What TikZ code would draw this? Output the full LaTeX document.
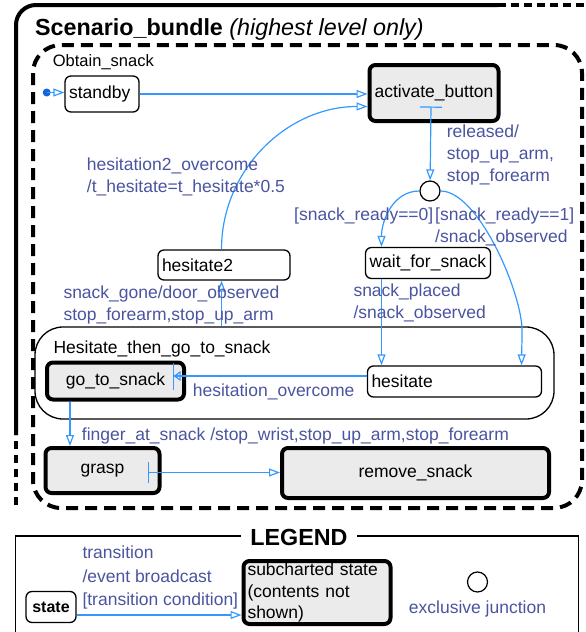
\documentclass[tikz,border=0pt]{standalone}
\usepackage{fontspec}
\setmainfont{Liberation Sans}
\usetikzlibrary{arrows.meta}
\definecolor{linkblue}{RGB}{51,153,255}
\definecolor{labelblue}{RGB}{74,84,160}
\definecolor{initblue}{RGB}{20,100,220}
\definecolor{subgray}{RGB}{235,235,235}
\newcommand{\statefont}{\fontsize{17.5}{22}\selectfont}

\begin{document}
\begin{tikzpicture}[
        x=1pt, y=-1pt,
        state/.style={draw, rounded corners=6pt, line width=1.3pt, inner xsep=4pt, inner ysep=0pt, align=left, font=\statefont},
        subchart/.style={state, line width=4pt, fill=subgray, align=center},
        junction/.style={draw, circle, line width=1.2pt, minimum size=20pt, inner sep=0pt},
        frame/.style={line width=4pt, dash pattern=on 12pt off 7pt},
        trans/.style={draw=linkblue, line width=1.2pt, -{Triangle[open, length=11pt, width=8pt]}},
        guard/.style={text=labelblue, font=\statefont, align=left, anchor=base west, inner sep=0pt},
        caption/.style={font=\statefont, anchor=base west, inner sep=0pt}
    ]
    \useasboundingbox (0,0) rectangle (586,632);

    % Frames
    \draw[line width=4pt, dash pattern=on 8pt off 6pt] (16,505) -- (16,435);
    \draw[line width=4pt, rounded corners=20pt] (16,435) -- (16,5) -- (498,5);
    \draw[line width=4pt, dash pattern=on 8pt off 5pt] (498,5) -- (586,5);
    \draw[frame, rounded corners=28pt] (33,45) rectangle (582,508);
    \node[anchor=base west, inner sep=0pt, font=\fontsize{23.3}{26}\selectfont] (title) at (35,35) {\textbf{Scenario\_bundle} \textit{(highest level only)}};
    \node[caption, font=\fontsize{16.5}{20}\selectfont] (obtainlabel) at (52.7,66.7) {Obtain\_snack};

    % Nodes
    \coordinate (init) at (46.7,92.5);
    \node[state, text width=66pt, minimum height=36pt] (standby) at (102,94) {standby};
    \node[subchart, minimum width=129pt, minimum height=56pt] (activate) at (434,93) {activate\_button};
    \node[junction] (junc) at (430,191) {};
    \node[state, text width=117pt, minimum height=31pt] (wait) at (428,263) {wait\_for\_snack};
    \node[state, text width=124pt, minimum height=30pt] (hesitate2) at (224,265) {hesitate2};
    \node[state, rounded corners=28pt, minimum width=519pt, minimum height=92pt] (hgts) at (294.5,373) {};
    \node[caption] (hgtslabel) at (53.3,353.3) {Hesitate\_then\_go\_to\_snack};
    \node[subchart, minimum width=137pt, minimum height=37pt] (gotosnack) at (115.5,381) {go\_to\_snack};
    \node[state, text width=166pt, minimum height=31pt] (hesitate) at (454.5,381.5) {hesitate};
    \node[subchart, minimum width=114pt, minimum height=45pt] (grasp) at (102.5,470.5) {grasp};
    \node[subchart, minimum width=267pt, minimum height=50pt] (remove) at (415.5,473) {remove\_snack};

    % Arrows
    \fill[initblue] (init) circle[radius=4pt];
    \draw[trans] (init) -- (init -| standby.west);
    \draw[trans] (standby.east) -- (standby.east -| activate.west);
    \draw[trans] ([xshift=-2.5pt]hesitate2.north) to[out=90, in=180] ([yshift=-13.5pt]activate.west);
    \draw[trans, {Bar[width=22pt]}-{Triangle[open, length=11pt, width=8pt]}] ([xshift=-3pt, yshift=-13.5pt]activate.center) -- (junc);
    \draw[trans] (junc.west) to[out=180, in=90] ([xshift=-46.5pt]wait.north);
    \draw[trans] (junc.east) to[out=0, in=90, looseness=0.6] ++(81.5,140) -- ([xshift=67pt]hesitate.north);
    \coordinate (waitout) at ([xshift=-46.5pt]wait.south);
    \draw[trans] (waitout) -- (waitout |- hesitate.north);
    \coordinate (h2in) at ([xshift=-2.5pt]hesitate2.south);
    \draw[trans] (h2in |- hgts.north) -- (h2in);
    \draw[trans, -{Triangle[open, length=7pt, width=10pt] Bar[width=27pt]}] ([yshift=5.5pt]hesitate.west) -- ([xshift=-13.5pt, yshift=5pt]gotosnack.east);
    \coordinate (gtsout) at ([xshift=-45.5pt]gotosnack.south);
    \draw[trans] (gtsout) -- (gtsout |- grasp.north);
    \coordinate (graspout) at ([xshift=-14pt, yshift=-2pt]grasp.east);
    \draw[trans, {Bar[width=21pt]}-{Triangle[open, length=11pt, width=8pt]}] (graspout) -- (graspout -| remove.west);

    % Transition labels (base = last line)
    \node[guard] (h2label) at (86.7,192) {hesitation2\_overcome\\/t\_hesitate=t\_hesitate*0.5};
    \node[guard] (rellabel) at (446.7,181.7) {released/\\stop\_up\_arm,\\stop\_forearm};
    \node[guard] (ready0) at (294,220) {[snack\_ready==0]};
    \node[guard] (ready1) at (435,242) {[snack\_ready==1]\\/snack\_observed};
    \node[guard] (placedlabel) at (353.3,318) {snack\_placed\\/snack\_observed};
    \node[guard] (gonelabel) at (63.3,320.5) {snack\_gone/door\_observed\\stop\_forearm,stop\_up\_arm};
    \node[guard] (overlabel) at (192.7,396.7) {hesitation\_overcome};
    \node[guard] (fingerlabel) at (81.7,440) {finger\_at\_snack /stop\_wrist,stop\_up\_arm,stop\_forearm};

    % Legend
    \draw[line width=1.3pt] (15.7,632) -- (15.7,536) -- (578.3,536) -- (578.3,632);
    \node[fill=white, inner xsep=9pt, inner ysep=2pt, anchor=base, font=\fontsize{23.3}{26}\selectfont\bfseries] (legend) at (299,545) {LEGEND};
    \node[state, align=center, minimum width=50pt, minimum height=31pt, font=\fontsize{16}{19}\selectfont\bfseries] (lstate) at (51,607) {state};
    \node[subchart, align=left, text width=139pt, minimum height=63pt, font=\fontsize{17.5}{21.5}\selectfont] (lsub) at (317,592.5) {subcharted state\\(contents not\\shown)};
    \node[junction] (ljunc) at (477.5,582) {};
    \node[guard, anchor=base] (ljunclabel) at (477.5,613) {exclusive junction};
    \coordinate (lstateout) at ([yshift=-8pt]lstate.east);
    \draw[trans] (lstateout) -- (lstateout -| lsub.west);
    \node[guard, font=\fontsize{17.5}{23.7}\selectfont] (legendlabel) at (82.3,605.7) {transition\\/event broadcast\\{}[transition condition]};

\end{tikzpicture}
\end{document}
